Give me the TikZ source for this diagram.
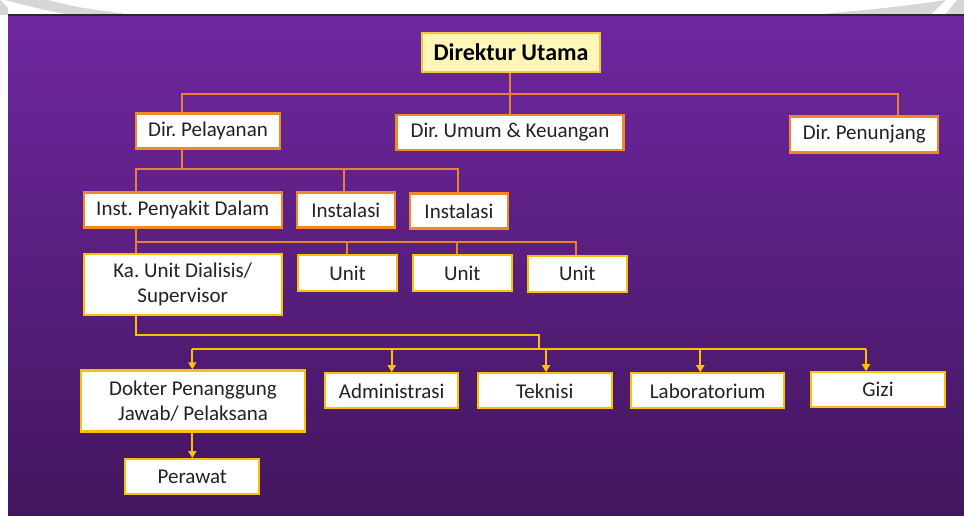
\documentclass[tikz,border=0pt]{standalone}
\usepackage{fontspec}
\setmainfont{Carlito}
\usetikzlibrary{arrows.meta}
\definecolor{boxorange}{HTML}{F28A22}
\definecolor{boxgold}{HTML}{FFC000}
\definecolor{linkorange}{HTML}{E9822E}
\definecolor{purpletop}{HTML}{6F27A0}
\definecolor{purplebot}{HTML}{42165E}
\definecolor{headfill}{HTML}{FFF6B8}
\definecolor{headedge}{HTML}{F2C744}
\definecolor{ink}{HTML}{222222}
\definecolor{swoosh}{HTML}{D6D6D6}
\definecolor{rim}{HTML}{3A2028}
\frenchspacing
\begin{document}
\begin{tikzpicture}[x=1pt,y=-1pt,
  box/.style={draw=boxorange, fill=white, line width=2.2pt, inner sep=0pt,
    text=ink, font=\fontsize{21}{25.5}\selectfont, align=center},
  goldbox/.style={box, draw=boxgold},
  headbox/.style={box, draw=headedge, fill=headfill,
    font=\fontsize{24}{28}\selectfont\bfseries, text=black},
  link/.style={draw=linkorange, line width=2pt},
  goldlink/.style={draw=boxgold, line width=2.2pt},
  arrowlink/.style={goldlink, -{Triangle[width=8pt,length=7pt]}},
]
\useasboundingbox (0,0) rectangle (964,516);
\fill[white] (0,0) rectangle (964,516);

% pale swooshes of the slide background
\fill[swoosh] (5,0) -- (48,0) .. controls (80,8) .. (135,15) -- (70,15) .. controls (40,9) .. (5,0) -- cycle;
\fill[swoosh] (0,0) -- (8,8) -- (8,15) -- (0,15) -- cycle;
\fill[swoosh] (810,15) .. controls (870,10) and (915,5) .. (946,0) -- (930,15) -- cycle;
\fill[swoosh] (945,15) -- (957,0) -- (964,0) -- (964,15) -- cycle;

% slide panel
\shade[top color=purpletop, bottom color=purplebot] (8,15) rectangle (964,516);
\draw[rim, line width=1.5pt] (8,15) -- (964,15);

% nodes
\node[headbox, minimum width=178pt, minimum height=39pt] (du) at (511,52.2) {Direktur Utama};

\node[box, minimum width=144pt, minimum height=35pt] (dpel) at (208,131) {Dir. Pelayanan};
\node[box, minimum width=227pt, minimum height=35pt] (dum) at (510,132.3) {Dir. Umum \& Keuangan};
\node[box, minimum width=148pt, minimum height=36pt] (dpen) at (864.3,134.5) {Dir. Penunjang};

\node[box, minimum width=198pt, minimum height=35pt] (ipd) at (182.7,210) {Inst. Penyakit Dalam};
\node[box, minimum width=98pt, minimum height=35pt] (ins1) at (345.8,210) {Instalasi};
\node[box, minimum width=98pt, minimum height=35pt] (ins2) at (459,211) {Instalasi};

\node[goldbox, minimum width=198pt, minimum height=61pt] (kau) at (182.7,284.3) {Ka. Unit Dialisis/\\Supervisor};
\node[goldbox, minimum width=99pt, minimum height=36pt] (u1) at (347.5,273.3) {Unit};
\node[goldbox, minimum width=99pt, minimum height=36pt] (u2) at (462.3,273.3) {Unit};
\node[goldbox, minimum width=99pt, minimum height=36pt] (u3) at (577.3,273.8) {Unit};

\node[goldbox, minimum width=224pt, minimum height=61pt] (dok) at (193,401) {Dokter Penanggung\\Jawab/ Pelaksana};
\node[goldbox, minimum width=133pt, minimum height=35pt] (adm) at (391.7,390.8) {Administrasi};
\node[goldbox, minimum width=134pt, minimum height=35pt] (tek) at (544.7,390.8) {Teknisi};
\node[goldbox, minimum width=153pt, minimum height=35pt] (lab) at (707.7,390.8) {Laboratorium};
\node[goldbox, minimum width=134pt, minimum height=35pt] (gizi) at (878,389.8) {Gizi};
\node[goldbox, minimum width=134pt, minimum height=35pt] (per) at (192.3,476.7) {Perawat};

% directors
\coordinate (j1l) at (181.7,94);
\coordinate (j1m) at (510,94);
\coordinate (j1r) at (897.7,94);
\draw[link] (du.south -| j1m) -- (dum.north -| j1m);
\draw[link] (dpel.north -| j1l) -- (j1l) -- (j1r) -- (dpen.north -| j1r);

% installations
\coordinate (j2s) at (181.7,169.3);
\coordinate (j2l) at (136,169.3);
\coordinate (j2m) at (344.3,169.3);
\coordinate (j2r) at (458.3,169.3);
\draw[link] (dpel.south -| j2s) -- (j2s);
\draw[link] (ipd.north -| j2l) -- (j2l) -- (j2r) -- (ins2.north -| j2r);
\draw[link] (j2m) -- (ins1.north -| j2m);

% units
\coordinate (j3l) at (136,241.7);
\coordinate (j3a) at (347.3,241.7);
\coordinate (j3b) at (456.7,241.7);
\coordinate (j3r) at (576,241.7);
\draw[link] (ipd.south -| j3l) -- (kau.north -| j3l);
\draw[link] (j3l) -- (j3r) -- (u3.north -| j3r);
\draw[link] (j3a) -- (u1.north -| j3a);
\draw[link] (j3b) -- (u2.north -| j3b);

% staff of the dialysis unit
\coordinate (j4a) at (135.7,335);
\coordinate (j4b) at (539,335);
\coordinate (j4c) at (539,349.3);
\coordinate (j4l) at (192.3,349.3);
\coordinate (j4adm) at (391.7,349.3);
\coordinate (j4tek) at (546,349.3);
\coordinate (j4lab) at (700.3,349.3);
\coordinate (j4r) at (866,349.3);
\draw[goldlink] (kau.south -| j4a) -- (j4a) -- (j4b) -- (j4c);
\draw[goldlink] (j4l) -- (j4r);
\draw[arrowlink] (j4l) -- (dok.north -| j4l);
\draw[arrowlink] (j4adm) -- (adm.north -| j4adm);
\draw[arrowlink] (j4tek) -- (tek.north -| j4tek);
\draw[arrowlink] (j4lab) -- (lab.north -| j4lab);
\draw[arrowlink] (j4r) -- (gizi.north -| j4r);
\draw[arrowlink] (dok.south -| j4l) -- (per.north -| j4l);
\end{tikzpicture}
\end{document}
